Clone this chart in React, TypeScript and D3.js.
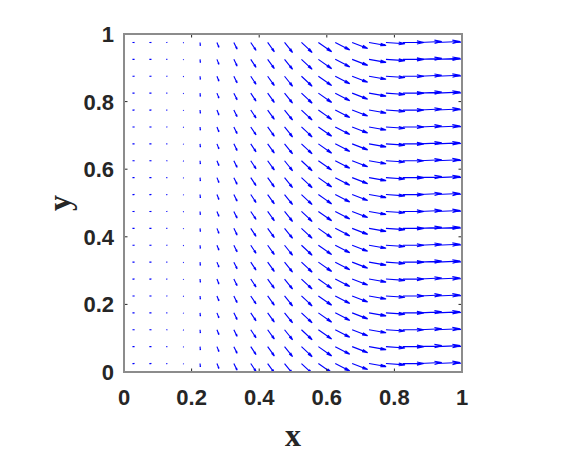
import React from "react";
import * as d3 from "d3";

// grid positions (data units)
const xs = [0.025, 0.075, 0.125, 0.175, 0.225, 0.275, 0.325, 0.375, 0.425, 0.475, 0.525, 0.575, 0.625, 0.675, 0.725, 0.775, 0.825, 0.875, 0.925, 0.975];
const ys = [0.025, 0.075, 0.125, 0.175, 0.225, 0.275, 0.325, 0.375, 0.425, 0.475, 0.525, 0.575, 0.625, 0.675, 0.725, 0.775, 0.825, 0.875, 0.925, 0.975];
// vector components per column (field is uniform in y), in field units
const uCol = [0.2, 0.2, 0.1, 0.05, 0.03, 0.2, 0.33, 0.53, 0.67, 0.8, 1.07, 1.33, 1.45, 1.55, 1.7, 1.9, 2.1, 2.2, 2.35, 2.5];
const vCol = [0, 0, 0, -0.05, -0.33, -0.5, -0.67, -0.8, -0.93, -1.0, -1.0, -0.93, -0.75, -0.6, -0.3, -0.13, 0, 0.1, 0.1, 0.1];
const xTicks = [0, 0.2, 0.4, 0.6, 0.8, 1];
const yTicks = [0, 0.2, 0.4, 0.6, 0.8, 1];
const xTickLabels = ["0", "0.2", "0.4", "0.6", "0.8", "1"];
const yTickLabels = ["0", "0.2", "0.4", "0.6", "0.8", "1"];

const W = 566, H = 454;
const L = 124, R = 462, T = 34, B = 372;
const ARROW_SCALE = 0.0296; // field unit -> data unit
const ALPHA = 0.33, BETA = 0.22;

export default function App() {
  const x = d3.scaleLinear().domain([0, 1]).range([L, R]);
  const y = d3.scaleLinear().domain([0, 1]).range([B, T]);

  const paths: string[] = [];
  xs.forEach((xv, i) => {
    ys.forEach((yv) => {
      const x0 = x(xv), y0 = y(yv);
      const x1 = x(xv + uCol[i] * ARROW_SCALE), y1 = y(yv + vCol[i] * ARROW_SCALE);
      const du = x1 - x0, dv = y1 - y0;
      const p = d3.path();
      p.moveTo(x0, y0);
      p.lineTo(x1, y1);
      p.moveTo(x1 - ALPHA * (du + BETA * dv), y1 - ALPHA * (dv - BETA * du));
      p.lineTo(x1, y1);
      p.lineTo(x1 - ALPHA * (du - BETA * dv), y1 - ALPHA * (dv + BETA * du));
      paths.push(p.toString());
    });
  });

  const tickLen = 3.5;
  const font = "'Liberation Sans', Arial, Helvetica, sans-serif";

  return (
    <div style={{ position: "absolute", left: 0, top: 0 }}>
      <svg width={W} height={H} viewBox={`0 0 ${W} ${H}`} style={{ display: "block", background: "#fff" }}>
        <defs>
          <clipPath id="plotclip">
            <rect x={L} y={T} width={R - L} height={B - T} />
          </clipPath>
        </defs>
        <g clipPath="url(#plotclip)">
          {paths.map((d, k) => (
            <path key={k} d={d} fill="none" stroke="#0000ff" strokeWidth={1.15} strokeLinejoin="miter" />
          ))}
        </g>
        {/* ticks */}
        <g stroke="#262626" strokeWidth={1}>
          {xTicks.map((t) => (
            <g key={"xt" + t}>
              <line x1={x(t)} x2={x(t)} y1={B} y2={B - tickLen} />
              <line x1={x(t)} x2={x(t)} y1={T} y2={T + tickLen} />
            </g>
          ))}
          {yTicks.map((t) => (
            <g key={"yt" + t}>
              <line x1={L} x2={L + tickLen} y1={y(t)} y2={y(t)} />
              <line x1={R} x2={R - tickLen} y1={y(t)} y2={y(t)} />
            </g>
          ))}
        </g>
        <rect x={L} y={T} width={R - L} height={B - T} fill="none" stroke="#8c8c8c" strokeWidth={2} />
        {/* tick labels */}
        <g fontFamily={font} fontWeight="bold" fontSize={22} fill="#262626">
          {xTicks.map((t, k) => (
            <text key={"xl" + t} x={x(t)} y={B + 33} textAnchor="middle">{xTickLabels[k]}</text>
          ))}
          {yTicks.map((t, k) => (
            <text key={"yl" + t} x={L - 10} y={y(t) + 8} textAnchor="end">{yTickLabels[k]}</text>
          ))}
        </g>
        <text x={(L + R) / 2} y={446} textAnchor="middle" fontFamily="'Liberation Serif', 'Times New Roman', serif" fontWeight="bold" fontSize={32} fill="#262626">x</text>
        <text transform={`translate(70, ${(T + B) / 2}) rotate(-90)`} textAnchor="middle" fontFamily="'Liberation Serif', 'Times New Roman', serif" fontWeight="bold" fontSize={32} fill="#262626">y</text>
      </svg>
    </div>
  );
}
